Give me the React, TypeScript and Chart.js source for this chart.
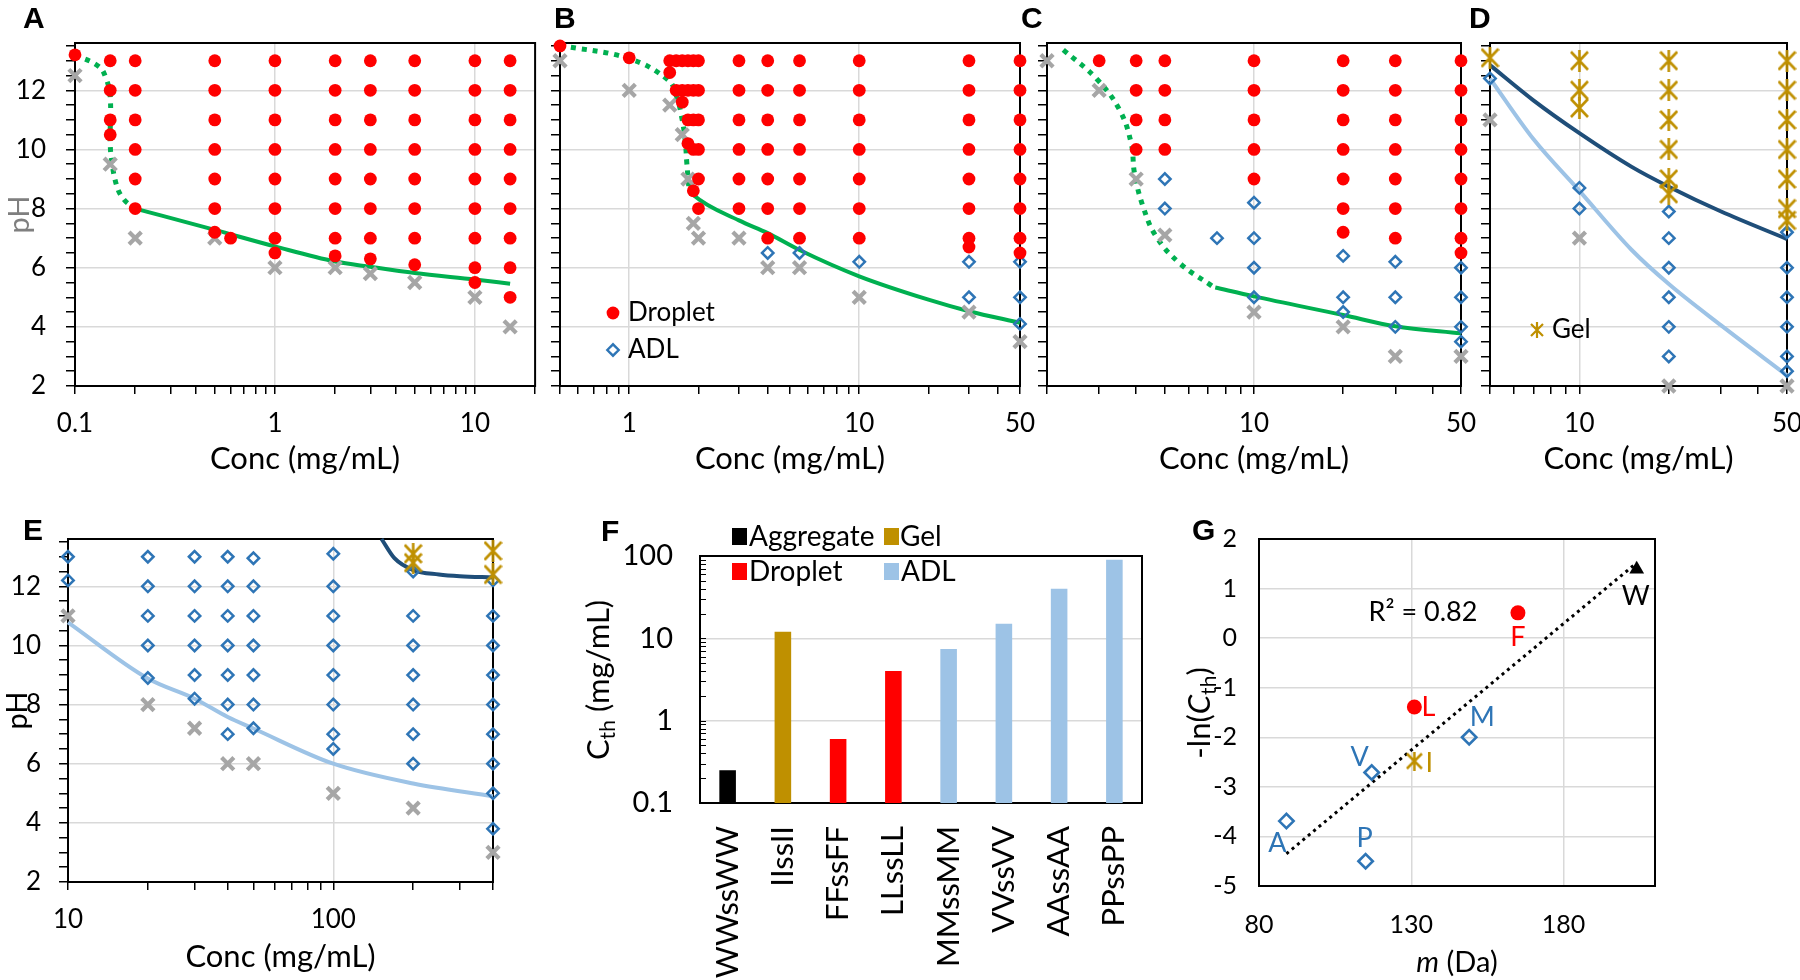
import React, { useEffect, useRef } from 'react';
import { Chart, registerables } from 'chart.js';

Chart.register(...registerables);

type Col = [number, number[]];

// ================= DATA =================
// Panel A : pH vs concentration (mg/mL)
const aDroplet: Col[] = [
  [0.1, [13.2]],
  [0.15, [13, 12, 11, 10.5]],
  [0.2, [13, 12, 11, 10, 9, 8]],
  [0.5, [13, 12, 11, 10, 9, 8, 7.2]],
  [0.6, [7]],
  [1, [13, 12, 11, 10, 9, 8, 7, 6.5]],
  [2, [13, 12, 11, 10, 9, 8, 7, 6.4]],
  [3, [13, 12, 11, 10, 9, 8, 7, 6.3]],
  [5, [13, 12, 11, 10, 9, 8, 7, 6.1]],
  [10, [13, 12, 11, 10, 9, 8, 7, 6, 5.5]],
  [15, [13, 12, 11, 10, 9, 8, 7, 6, 5]],
];
const aAggregate: Col[] = [
  [0.1, [12.5]], [0.15, [9.5]], [0.2, [7]], [0.5, [7]], [1, [6]],
  [2, [6]], [3, [5.8]], [5, [5.5]], [10, [5]], [15, [4]],
];
const aDottedConc = [0.1, 0.132, 0.143, 0.15, 0.15, 0.152, 0.162, 0.176, 0.2];
const aDottedPH = [13.2, 12.8, 12.4, 11.8, 10.3, 9.7, 8.75, 8.3, 8.0];
const aSolidConc = [0.2, 0.5, 1, 2, 3, 5, 10, 15];
const aSolidPH = [8.0, 7.28, 6.72, 6.21, 6.03, 5.82, 5.6, 5.46];

// Panel B
const bDroplet: Col[] = [
  [0.5, [13.5]],
  [1, [13.1]],
  [1.5, [13, 12.6]],
  [1.6, [13, 12]],
  [1.7, [13, 12, 11.6]],
  [1.8, [13, 12, 11, 10.2]],
  [1.9, [13, 12, 11, 10, 8.6]],
  [2, [13, 12, 11, 10, 9, 8]],
  [3, [13, 12, 11, 10, 9, 8]],
  [4, [13, 12, 11, 10, 9, 8, 7]],
  [5.5, [13, 12, 11, 10, 9, 8, 7]],
  [10, [13, 12, 11, 10, 9, 8, 7]],
  [30, [13, 12, 11, 10, 9, 8, 7, 6.7]],
  [50, [13, 12, 11, 10, 9, 8, 7, 6.5]],
];
const bADL: Col[] = [[4, [6.5]], [5.5, [6.5]], [10, [6.2]], [30, [6.2, 5]], [50, [6.2, 5, 4.1]]];
const bAggregate: Col[] = [
  [0.5, [13]], [1, [12]], [1.5, [11.5]], [1.7, [10.5]], [1.8, [9]], [1.9, [7.5]],
  [2, [7]], [3, [7]], [4, [6]], [5.5, [6]], [10, [5]], [30, [4.5]], [50, [3.5]],
];
const bDottedConc = [0.5, 1, 1.48, 1.61, 1.69, 1.75, 1.78, 1.82];
const bDottedPH = [13.52, 13.07, 12.34, 11.77, 11.1, 10.32, 9.53, 8.63];
const bSolidConc = [1.82, 1.9, 3, 4, 5.5, 10, 20, 30, 50];
const bSolidPH = [8.63, 8.46, 7.6, 7.17, 6.6, 5.71, 4.92, 4.53, 4.14];

// Panel C
const cDroplet: Col[] = [
  [3, [13]],
  [4, [13, 12, 11, 10]],
  [5, [13, 12, 11, 10]],
  [10, [13, 12, 11, 10, 9]],
  [20, [13, 12, 11, 10, 9, 8, 7.2]],
  [30, [13, 12, 11, 10, 9, 8, 7]],
  [50, [13, 12, 11, 10, 9, 8, 7, 6.5]],
];
const cADL: Col[] = [
  [5, [9, 8]], [7.5, [7]], [10, [8.2, 7, 6, 5]], [20, [6.4, 5, 4.5]],
  [30, [6.2, 5, 4]], [50, [6, 5, 4, 3.5]],
];
const cAggregate: Col[] = [
  [2, [13]], [3, [12]], [4, [9]], [5, [7.1]], [10, [4.5]], [20, [4]], [30, [3]], [50, [3]],
];
const cDottedConc = [2.27, 2.94, 3.52, 3.85, 3.95, 4.22, 4.67, 5.6, 7.24];
const cDottedPH = [13.37, 12.39, 11.33, 10.2, 9.19, 8.07, 7.06, 6.16, 5.37];
const cSolidConc = [7.4, 10, 20, 30, 50];
const cSolidPH = [5.33, 5.03, 4.4, 4.02, 3.78];

// Panel D
const dGel: Col[] = [
  [5, [13.1]], [10, [13, 12, 11.4]], [20, [13, 12, 11, 10, 9, 8.5]],
  [50, [13, 12, 11, 10, 9, 8, 7.6]],
];
const dADL: Col[] = [[5, [12.4]], [10, [8.7, 8]], [20, [7.9, 7, 6, 5, 4, 3]], [50, [7.2, 6, 5, 4, 3, 2.5]]];
const dAggregate: Col[] = [[5, [11]], [10, [7]], [20, [2]], [50, [2]]];
const dGelLineConc = [5, 7, 10, 15, 20, 30, 50];
const dGelLinePH = [12.85, 11.66, 10.55, 9.41, 8.74, 7.9, 6.97];
const dADLLineConc = [5, 7, 10, 15, 20, 30, 50];
const dADLLinePH = [12.4, 10.35, 8.6, 6.6, 5.45, 4.05, 2.36];

// Panel E
const eADL: Col[] = [
  [10, [13, 12.2]],
  [20, [13, 12, 11, 10, 8.9]],
  [30, [13, 12, 11, 10, 9, 8.2]],
  [40, [13, 12, 11, 10, 9, 8, 7]],
  [50, [12.95, 12, 11, 10, 9, 8, 7.2]],
  [100, [13.1, 12, 11, 10, 9, 8, 7, 6.5]],
  [200, [12.5, 11, 10, 9, 8, 7, 6]],
  [400, [12.2, 11, 10, 9, 8, 7, 6, 5, 3.8]],
];
const eGel: Col[] = [[200, [13.1, 12.8]], [400, [13.2, 12.4]]];
const eAggregate: Col[] = [
  [10, [11]], [20, [8]], [30, [7.2]], [40, [6]], [50, [6]], [100, [5]], [200, [4.5]], [400, [3]],
];
const eGelLineConc = [152, 170, 200, 250, 300, 400];
const eGelLinePH = [13.6, 12.95, 12.55, 12.4, 12.34, 12.3];
const eADLLineConc = [10, 20, 30, 40, 50, 100, 200, 400];
const eADLLinePH = [10.78, 8.88, 8.2, 7.58, 7.19, 6.0, 5.33, 4.9];

// Panel F : threshold concentration per peptide
const fCategories = ['WWssWW', 'IIssII', 'FFssFF', 'LLssLL', 'MMssMM', 'VVssVV', 'AAssAA', 'PPssPP'];
const fCth = [0.25, 12, 0.6, 4, 7.4, 15, 40, 90];
const fPhase = ['Aggregate', 'Gel', 'Droplet', 'Droplet', 'ADL', 'ADL', 'ADL', 'ADL'];
const fYLabels = [0.1, 1, 10, 100];

// Panel G : -ln(Cth) vs residue mass
const gResidues = ['A', 'P', 'V', 'I', 'L', 'M', 'F', 'W'];
const gMass = [89, 115, 117, 131, 131, 149, 165, 204];
const gNegLnCth = [-3.69, -4.5, -2.71, -2.48, -1.39, -2.0, 0.51, 1.39];
const gPhase = ['ADL', 'ADL', 'ADL', 'Gel', 'Droplet', 'ADL', 'Droplet', 'Aggregate'];
const gTrendMass = [89, 204];
const gTrendValue = [-4.35, 1.52];
const gR2Text = 'R\u00B2 = 0.82';
const gXTicks = [80, 130, 180];
const gYTicks = [-5, -4, -3, -2, -1, 0, 1, 2];

const phMin = 2;
const phMax = 13.6;
const phLabelValues = [2, 4, 6, 8, 10, 12];

// ================= STYLE =================
const RED = '#ff0000';
const GRAY = '#a6a6a6';
const BLUE = '#2e75b6';
const GOLD = '#bf9000';
const GREEN = '#00b050';
const NAVY = '#1f4e79';
const LIGHT = '#9dc3e6';
const GRID = '#d9d9d9';
const NONE = 'rgba(0,0,0,0)';
const FONT = 'Lato, "Open Sans", "DejaVu Sans", sans-serif';
const TICK_FONT = 26;
const TITLE_FONT = 31;

Chart.defaults.font.family = FONT;
Chart.defaults.color = '#000';

const F_COLORS: Record<string, string> = { Aggregate: '#000000', Gel: GOLD, Droplet: RED, ADL: LIGHT };

const gLabelStyle: Record<string, { dx: number; dy: number; color: string }> = {
  A: { dx: -9, dy: 22, color: BLUE },
  P: { dx: -1, dy: -23, color: BLUE },
  V: { dx: -12, dy: -15, color: BLUE },
  I: { dx: 15, dy: 2, color: GOLD },
  L: { dx: 14, dy: 0, color: RED },
  M: { dx: 13, dy: -20, color: BLUE },
  F: { dx: 0, dy: 24, color: RED },
  W: { dx: -1, dy: 27, color: '#000' },
};

// ================= HELPERS =================
const near = (a: number, b: number) => Math.abs(a - b) <= 1e-6 * Math.max(1, Math.abs(b));
const isDecade = (v: number) => near(Math.log10(v), Math.round(Math.log10(v)));
const pts = (cols: Col[]) => cols.flatMap(([x, ys]) => ys.map((y) => ({ x, y })));
const line = (xs: number[], ys: number[]) => xs.map((x, i) => ({ x, y: ys[i] }));

function logTickValues(min: number, max: number) {
  const out: number[] = [];
  for (let e = -2; e <= 3; e++) {
    for (let m = 1; m <= 9; m++) {
      const v = parseFloat((m * Math.pow(10, e)).toPrecision(6));
      if (v >= min - 1e-9 && v <= max + 1e-9) out.push(v);
    }
  }
  return out;
}
function phTickValues() {
  const out: number[] = [];
  for (let v = phMin; v <= phMax - 0.05; v += 0.5) out.push(v);
  return out;
}

function makeGel(w: number, h: number, lw: number) {
  const c = document.createElement('canvas');
  c.width = w;
  c.height = h;
  const g = c.getContext('2d')!;
  g.strokeStyle = GOLD;
  g.lineWidth = lw;
  g.beginPath();
  g.moveTo(1, 2);
  g.lineTo(w - 1, h - 2);
  g.moveTo(1, h - 2);
  g.lineTo(w - 1, 2);
  g.moveTo(w / 2, 0);
  g.lineTo(w / 2, h);
  g.stroke();
  return c;
}

const boxPlugin = {
  id: 'plotBox',
  beforeDatasetsDraw(chart: any) {
    const { ctx, chartArea: a } = chart;
    ctx.save();
    ctx.strokeStyle = '#000';
    ctx.lineWidth = 2;
    ctx.strokeRect(a.left, a.top, a.right - a.left, a.bottom - a.top);
    ctx.restore();
  },
};

type LegendItem = {
  marker: 'circle' | 'diamond' | 'square' | 'image';
  color?: string;
  img?: HTMLCanvasElement;
  dx: number;
  dy: number;
  tx: number;
  text: string;
  size: number;
};

function legendPlugin(id: string, items: LegendItem[], fontSize: number) {
  return {
    id,
    afterDatasetsDraw(chart: any) {
      const { ctx, chartArea: a } = chart;
      ctx.save();
      for (const it of items) {
        const x = a.left + it.dx;
        const y = a.top + it.dy;
        if (it.marker === 'circle') {
          ctx.fillStyle = it.color;
          ctx.beginPath();
          ctx.arc(x, y, it.size, 0, Math.PI * 2);
          ctx.fill();
        } else if (it.marker === 'diamond') {
          ctx.strokeStyle = it.color;
          ctx.lineWidth = 2.4;
          ctx.beginPath();
          ctx.moveTo(x - it.size, y);
          ctx.lineTo(x, y - it.size);
          ctx.lineTo(x + it.size, y);
          ctx.lineTo(x, y + it.size);
          ctx.closePath();
          ctx.stroke();
        } else if (it.marker === 'square') {
          ctx.fillStyle = it.color;
          ctx.fillRect(x - 7.5, y - 8.5, 15, 17);
        } else if (it.marker === 'image' && it.img) {
          ctx.drawImage(it.img, x - it.img.width / 2, y - it.img.height / 2);
        }
        ctx.fillStyle = '#000';
        ctx.font = `${fontSize}px ${FONT}`;
        ctx.textAlign = 'left';
        ctx.textBaseline = 'middle';
        ctx.fillText(it.text, a.left + it.tx, y);
      }
      ctx.restore();
    },
  };
}

const ds = {
  droplet: (cols: Col[]) => ({
    data: pts(cols), pointStyle: 'circle', pointRadius: 6.4, backgroundColor: RED,
    borderColor: RED, borderWidth: 0, clip: false,
  }),
  aggregate: (cols: Col[]) => ({
    data: pts(cols), pointStyle: 'crossRot', pointRadius: 8.7, borderColor: GRAY,
    backgroundColor: GRAY, borderWidth: 4.2, clip: false,
  }),
  adl: (cols: Col[]) => ({
    data: pts(cols), pointStyle: 'rectRot', pointRadius: 5.7, borderColor: BLUE,
    backgroundColor: NONE, borderWidth: 2.5, clip: false,
  }),
  gel: (cols: Col[], img: HTMLCanvasElement) => ({
    data: pts(cols), pointStyle: img, pointRadius: 10, clip: false,
  }),
  curve: (xs: number[], ys: number[], color: string, width: number, dash: number[] = [], smooth = 'monotone') => ({
    data: line(xs, ys), showLine: true, pointRadius: 0, borderColor: color,
    backgroundColor: color, borderWidth: width, borderDash: dash,
    tension: 0.4, cubicInterpolationMode: smooth === 'monotone' ? 'monotone' : 'default',
    fill: false, clip: false,
  }),
};

type Rect = { left: number; top: number; width: number; height: number };
type Area = { left: number; top: number; right: number; bottom: number };

const LAYOUT: Record<string, { c: Rect; a: Area }> = {
  A: { c: { left: 0, top: 0, width: 548, height: 480 }, a: { left: 75, top: 43, right: 536, bottom: 386 } },
  B: { c: { left: 540, top: 0, width: 500, height: 480 }, a: { left: 560, top: 43, right: 1020, bottom: 386 } },
  C: { c: { left: 1030, top: 0, width: 450, height: 480 }, a: { left: 1047, top: 43, right: 1461, bottom: 386 } },
  D: { c: { left: 1470, top: 0, width: 330, height: 480 }, a: { left: 1490, top: 43, right: 1787, bottom: 386 } },
  E: { c: { left: 0, top: 490, width: 520, height: 490 }, a: { left: 68, top: 539, right: 493, bottom: 882 } },
  F: { c: { left: 560, top: 490, width: 600, height: 490 }, a: { left: 700, top: 556, right: 1142, bottom: 803 } },
  G: { c: { left: 1170, top: 490, width: 630, height: 490 }, a: { left: 1259, top: 539, right: 1655, bottom: 886 } },
};
const ORDER = ['A', 'B', 'C', 'D', 'E', 'F', 'G'];

function padding(c: Rect, a: Area) {
  return { left: 0, top: a.top - c.top, right: c.left + c.width - a.right, bottom: 0 };
}

function phConfig(key: string, xMin: number, xMax: number, xLabels: number[], datasets: any[],
  opts: { yLabels: boolean; yTitleColor?: string; titleBottom: number; extra?: any[] }) {
  const { c, a } = LAYOUT[key];
  const xTicks = logTickValues(xMin, xMax);
  const yTicks = phTickValues();
  return {
    type: 'scatter',
    data: { datasets },
    options: {
      responsive: false,
      animation: false,
      events: [],
      layout: { padding: padding(c, a) },
      plugins: { legend: { display: false }, tooltip: { enabled: false } },
      scales: {
        x: {
          type: 'logarithmic',
          min: xMin,
          max: xMax,
          afterBuildTicks: (s: any) => { s.ticks = xTicks.map((v) => ({ value: v })); },
          afterFit: (s: any) => { s.height = c.top + c.height - a.bottom; s.paddingLeft = 0; s.paddingRight = 0; },
          grid: {
            color: (ctx: any) => (ctx.tick && isDecade(ctx.tick.value) ? GRID : NONE),
            lineWidth: 1.5, drawTicks: true, tickLength: 8, tickColor: '#000', tickWidth: 1.5,
          },
          border: { color: '#000', width: 2 },
          ticks: {
            autoSkip: false, maxRotation: 0, minRotation: 0, padding: 14, color: '#000',
            font: { size: TICK_FONT },
            callback: (v: any) => {
              const n = Number(v);
              return xLabels.some((l) => near(l, n)) ? String(n) : '';
            },
          },
          title: {
            display: true, text: 'Conc (mg/mL)', color: '#000', font: { size: TITLE_FONT },
            padding: { top: 0, bottom: opts.titleBottom },
          },
        },
        y: {
          type: 'linear',
          min: phMin,
          max: phMax,
          afterBuildTicks: (s: any) => { s.ticks = yTicks.map((v) => ({ value: v })); },
          afterFit: (s: any) => { s.width = a.left - c.left; s.paddingTop = 0; s.paddingBottom = 0; },
          grid: {
            color: (ctx: any) => (ctx.tick && phLabelValues.some((l) => near(l, ctx.tick.value)) && ctx.tick.value > phMin ? GRID : NONE),
            lineWidth: 1.5, drawTicks: true, tickLength: 9, tickColor: '#000', tickWidth: 1.5,
          },
          border: { color: '#000', width: 2 },
          ticks: {
            autoSkip: false, padding: key === 'E' ? 18 : 20, color: '#000', font: { size: TICK_FONT },
            callback: (v: any) => {
              const n = Number(v);
              return opts.yLabels && phLabelValues.some((l) => near(l, n)) ? String(n) : '';
            },
          },
          title: {
            display: !!opts.yTitleColor, text: 'pH', color: opts.yTitleColor || '#000',
            font: { size: 29 }, padding: { top: key === 'E' ? 0 : 2, bottom: 0 },
          },
        },
      },
    },
    plugins: [boxPlugin, ...(opts.extra || [])],
  };
}

function fConfig() {
  const { c, a } = LAYOUT.F;
  const yTicks = logTickValues(0.1, 100);
  const innerTicks = {
    id: 'innerTicks',
    beforeDatasetsDraw(chart: any) {
      const { ctx, chartArea: ca, scales } = chart;
      ctx.save();
      ctx.strokeStyle = '#000';
      ctx.lineWidth = 1.2;
      ctx.beginPath();
      for (const v of yTicks) {
        const y = Math.round(scales.y.getPixelForValue(v)) + 0.5;
        ctx.moveTo(ca.left, y);
        ctx.lineTo(ca.left + 6, y);
      }
      ctx.stroke();
      ctx.restore();
    },
  };
  const legend = legendPlugin('legendF', [
    { marker: 'square', color: F_COLORS.Aggregate, dx: 39.5, dy: -19.5, tx: 49, text: 'Aggregate', size: 0 },
    { marker: 'square', color: F_COLORS.Gel, dx: 191.5, dy: -19.5, tx: 200, text: 'Gel', size: 0 },
    { marker: 'square', color: F_COLORS.Droplet, dx: 39.5, dy: 15.5, tx: 49, text: 'Droplet', size: 0 },
    { marker: 'square', color: F_COLORS.ADL, dx: 191.5, dy: 15.5, tx: 201, text: 'ADL', size: 0 },
  ], 28);
  return {
    type: 'bar',
    data: {
      labels: fCategories,
      datasets: [{
        data: fCth,
        backgroundColor: fPhase.map((p) => F_COLORS[p]),
        borderWidth: 0,
        barPercentage: 0.3,
        categoryPercentage: 1,
      }],
    },
    options: {
      responsive: false,
      animation: false,
      events: [],
      layout: { padding: padding(c, a) },
      plugins: { legend: { display: false }, tooltip: { enabled: false } },
      scales: {
        x: {
          afterFit: (s: any) => { s.height = c.top + c.height - a.bottom; s.paddingLeft = 0; s.paddingRight = 0; },
          grid: { display: false, drawTicks: false },
          border: { color: '#000', width: 2 },
          ticks: { autoSkip: false, minRotation: 90, maxRotation: 90, padding: 23, color: '#000', font: { size: 31 } },
        },
        y: {
          type: 'logarithmic',
          min: 0.1,
          max: 100,
          afterBuildTicks: (s: any) => { s.ticks = yTicks.map((v) => ({ value: v })); },
          afterFit: (s: any) => { s.width = a.left - c.left; s.paddingTop = 0; s.paddingBottom = 0; },
          grid: {
            color: (ctx: any) => (ctx.tick && isDecade(ctx.tick.value) && ctx.tick.value > 0.11 && ctx.tick.value < 99 ? GRID : NONE),
            lineWidth: 1.5, drawTicks: false,
          },
          border: { color: '#000', width: 2 },
          ticks: {
            autoSkip: false, padding: 27, color: '#000', font: { size: 29 },
            callback: (v: any) => {
              const n = Number(v);
              return fYLabels.some((l) => near(l, n)) ? String(n) : '';
            },
          },
        },
      },
    },
    plugins: [boxPlugin, innerTicks, legend],
  };
}

function gConfig(gelImg: HTMLCanvasElement) {
  const { c, a } = LAYOUT.G;
  const byPhase = (ph: string) => gMass.map((m, i) => ({ x: m, y: gNegLnCth[i], p: gPhase[i] }))
    .filter((d) => d.p === ph).map((d) => ({ x: d.x, y: d.y }));
  const labels = {
    id: 'gLabels',
    afterDatasetsDraw(chart: any) {
      const { ctx, scales, chartArea: ca } = chart;
      ctx.save();
      ctx.font = `27px ${FONT}`;
      ctx.textAlign = 'center';
      ctx.textBaseline = 'middle';
      gResidues.forEach((r, i) => {
        const st = gLabelStyle[r];
        ctx.fillStyle = st.color;
        ctx.fillText(r, scales.x.getPixelForValue(gMass[i]) + st.dx, scales.y.getPixelForValue(gNegLnCth[i]) + st.dy);
      });
      ctx.fillStyle = '#000';
      ctx.font = `27px ${FONT}`;
      ctx.fillText(gR2Text, ca.left + 164, ca.top + 73);
      ctx.restore();
    },
  };
  return {
    type: 'scatter',
    data: {
      datasets: [
        { data: byPhase('ADL'), pointStyle: 'rectRot', pointRadius: 7.2, borderColor: BLUE, backgroundColor: NONE, borderWidth: 2.6, clip: false },
        { data: byPhase('Droplet'), pointStyle: 'circle', pointRadius: 7.5, backgroundColor: RED, borderWidth: 0, clip: false },
        { data: byPhase('Gel'), pointStyle: gelImg, pointRadius: 9, clip: false },
        { data: byPhase('Aggregate'), pointStyle: 'triangle', pointRadius: 8.5, backgroundColor: '#000', borderColor: '#000', borderWidth: 0, clip: false },
        {
          data: line(gTrendMass, gTrendValue), showLine: true, pointRadius: 0, borderColor: '#000',
          borderWidth: 3, borderDash: [3, 4], tension: 0, clip: false,
        },
      ],
    },
    options: {
      responsive: false,
      animation: false,
      events: [],
      layout: { padding: padding(c, a) },
      plugins: { legend: { display: false }, tooltip: { enabled: false } },
      scales: {
        x: {
          type: 'linear', min: 80, max: 210,
          afterBuildTicks: (s: any) => { s.ticks = gXTicks.map((v) => ({ value: v })); },
          afterFit: (s: any) => { s.height = c.top + c.height - a.bottom; s.paddingLeft = 0; s.paddingRight = 0; },
          grid: { color: (ctx: any) => (ctx.tick && ctx.tick.value > 80 ? GRID : NONE), lineWidth: 1.5, drawTicks: false },
          border: { color: '#000', width: 2 },
          ticks: { autoSkip: false, maxRotation: 0, padding: 24, color: '#000', font: { size: 25 } },
        },
        y: {
          type: 'linear', min: -5, max: 2,
          afterBuildTicks: (s: any) => { s.ticks = gYTicks.map((v) => ({ value: v })); },
          afterFit: (s: any) => { s.width = a.left - c.left; s.paddingTop = 0; s.paddingBottom = 0; },
          grid: { color: (ctx: any) => (ctx.tick && ctx.tick.value > -5 && ctx.tick.value < 2 ? GRID : NONE), lineWidth: 1.5, drawTicks: false },
          border: { color: '#000', width: 2 },
          ticks: { autoSkip: false, padding: 22, color: '#000', font: { size: 25 } },
        },
      },
    },
    plugins: [boxPlugin, labels],
  };
}

const LETTERS = [
  { t: 'A', x: 23, y: 17.5 },
  { t: 'B', x: 554, y: 17.5 },
  { t: 'C', x: 1021, y: 17.5 },
  { t: 'D', x: 1469, y: 17.5 },
  { t: 'E', x: 23, y: 530 },
  { t: 'F', x: 601, y: 531 },
  { t: 'G', x: 1192, y: 530 },
];

export default function App() {
  const refs = useRef<(HTMLCanvasElement | null)[]>([]);

  useEffect(() => {
    const gelBig = makeGel(19, 22, 2.6);
    const gelLegend = makeGel(14, 16, 2.2);
    const gelG = makeGel(17, 19, 2.5);

    const legendB = legendPlugin('legendB', [
      { marker: 'circle', color: RED, dx: 53, dy: 270, tx: 68, text: 'Droplet', size: 6.4 },
      { marker: 'diamond', color: BLUE, dx: 53, dy: 307, tx: 68, text: 'ADL', size: 5.7 },
    ], 26);
    const legendD = legendPlugin('legendD', [
      { marker: 'image', img: gelLegend, dx: 47, dy: 287, tx: 62, text: 'Gel', size: 0 },
    ], 26);

    const configs: any[] = [
      phConfig('A', 0.1, 20, [0.1, 1, 10], [
        ds.droplet(aDroplet), ds.aggregate(aAggregate),
        ds.curve(aSolidConc, aSolidPH, GREEN, 4),
        ds.curve(aDottedConc, aDottedPH, GREEN, 5, [5, 6], 'bezier'),
      ], { yLabels: true, yTitleColor: '#7f7f7f', titleBottom: 2 }),
      phConfig('B', 0.5, 50, [1, 10, 50], [
        ds.droplet(bDroplet), ds.adl(bADL), ds.aggregate(bAggregate),
        ds.curve(bSolidConc, bSolidPH, GREEN, 4),
        ds.curve(bDottedConc, bDottedPH, GREEN, 5, [5, 6], 'bezier'),
      ], { yLabels: false, titleBottom: 2, extra: [legendB] }),
      phConfig('C', 2, 50, [10, 50], [
        ds.droplet(cDroplet), ds.adl(cADL), ds.aggregate(cAggregate),
        ds.curve(cSolidConc, cSolidPH, GREEN, 4),
        ds.curve(cDottedConc, cDottedPH, GREEN, 5, [5, 6], 'bezier'),
      ], { yLabels: false, titleBottom: 2 }),
      phConfig('D', 5, 50, [10, 50], [
        ds.gel(dGel, gelBig), ds.adl(dADL), ds.aggregate(dAggregate),
        ds.curve(dGelLineConc, dGelLinePH, NAVY, 4),
        ds.curve(dADLLineConc, dADLLinePH, LIGHT, 4),
      ], { yLabels: false, titleBottom: 2, extra: [legendD] }),
      phConfig('E', 10, 400, [10, 100], [
        ds.gel(eGel, gelBig), ds.adl(eADL), ds.aggregate(eAggregate),
        ds.curve(eGelLineConc, eGelLinePH, NAVY, 4),
        ds.curve(eADLLineConc, eADLLinePH, LIGHT, 4),
      ], { yLabels: true, yTitleColor: '#000', titleBottom: 4 }),
      fConfig(),
      gConfig(gelG),
    ];
    const charts = configs.map((cfg, i) => new Chart(refs.current[i] as HTMLCanvasElement, cfg));
    return () => charts.forEach((ch) => ch.destroy());
  }, []);

  const rot = (cx: number, cy: number): React.CSSProperties => ({
    position: 'absolute', left: cx, top: cy, transform: 'translate(-50%, -50%) rotate(-90deg)',
    whiteSpace: 'nowrap', fontFamily: FONT, lineHeight: 1, color: '#000',
  });
  const sub: React.CSSProperties = { fontSize: '0.68em', verticalAlign: '-0.3em', lineHeight: 0 };

  return (
    <div style={{ position: 'absolute', left: 0, top: 0, width: 1800, height: 980, background: '#fff', overflow: 'hidden' }}>
      {ORDER.map((k, i) => {
        const c = LAYOUT[k].c;
        return (
          <canvas
            key={k}
            ref={(el) => { refs.current[i] = el; }}
            width={c.width}
            height={c.height}
            style={{ position: 'absolute', left: c.left, top: c.top, width: c.width, height: c.height }}
          />
        );
      })}
      {LETTERS.map((l) => (
        <div key={l.t} style={{
          position: 'absolute', left: l.x, top: l.y - 14.6, fontFamily: '"Liberation Sans", Arial, sans-serif',
          fontWeight: 700, fontSize: 30, lineHeight: '30px', color: '#000',
        }}>{l.t}</div>
      ))}
      <div style={{ ...rot(597, 680), fontSize: 31 }}>C<sub style={sub}>th</sub> (mg/mL)</div>
      <div style={{ ...rot(1198, 713), fontSize: 31 }}>-ln(<i>C</i><sub style={sub}>th</sub>)</div>
      <div style={{
        position: 'absolute', left: 1457, top: 960, transform: 'translate(-50%, -50%)', whiteSpace: 'nowrap',
        fontFamily: FONT, fontSize: 29, lineHeight: 1, color: '#000',
      }}><i>m</i> (Da)</div>
    </div>
  );
}
